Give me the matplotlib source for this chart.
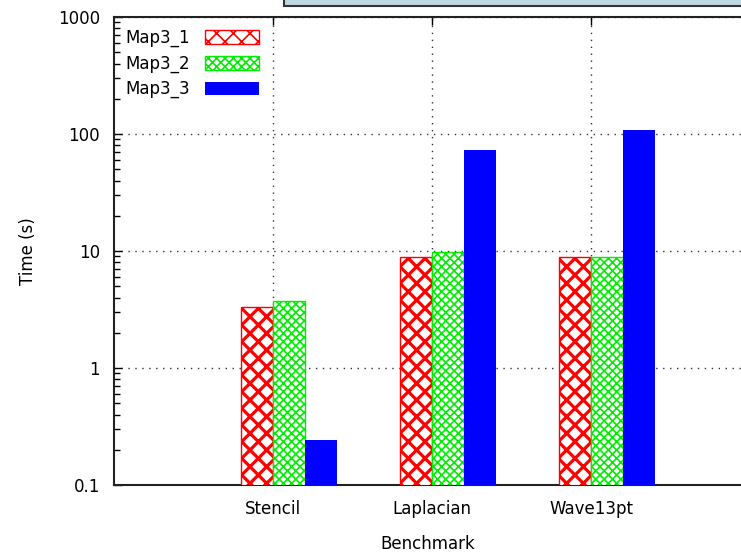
import numpy as np
import matplotlib.pyplot as plt
from matplotlib.patches import Rectangle

benchmarks = ['Stencil', 'Laplacian', 'Wave13pt']
map3_1 = [3.3, 8.9, 8.9]
map3_2 = [3.75, 9.8, 8.8]
map3_3 = [0.243, 73, 108]

plt.rcParams['font.family'] = 'DejaVu Sans'
plt.rcParams['font.size'] = 12

fig = plt.figure(figsize=(7.41, 5.56), dpi=100)
ax = fig.add_axes([114/741, 71/556, 627/741, 468/556])

x = np.arange(1, len(benchmarks) + 1)
w = 0.2

def set_hlw(bars, lw):
    for b in bars:
        if hasattr(b, 'set_hatch_linewidth'):
            b.set_hatch_linewidth(lw)

plt.rcParams['hatch.linewidth'] = 2.3
b1 = ax.bar(x - w/2, map3_1, w, bottom=1e-3, color='white', edgecolor='red',
            hatch='xx', linewidth=1.0, label='Map3_1', zorder=3)
set_hlw(b1, 2.3)
plt.rcParams['hatch.linewidth'] = 1.2
b2 = ax.bar(x + w/2, map3_2, w, bottom=1e-3, color='white', edgecolor='#00ee00',
            hatch='xxxx', linewidth=1.0, label='Map3_2', zorder=3)
set_hlw(b2, 1.2)
b3 = ax.bar(x + 3*w/2, map3_3, w, bottom=1e-3, color='blue', edgecolor='blue',
            linewidth=0, label='Map3_3', zorder=3)

ax.set_yscale('log')
ax.set_ylim(0.1, 1000)
ax.set_xlim(0, 627/159)
ax.set_xticks(x)
ax.set_xticklabels(benchmarks)
ax.set_yticks([0.1, 1, 10, 100, 1000])
ax.set_yticklabels(['0.1', '1', '10', '100', '1000'])

ax.grid(True, which='major', linestyle=(0, (1, 4)), color='#333333', linewidth=1.0, zorder=1)
ax.tick_params(axis='x', which='major', direction='in', length=6, width=1,
               top=True, pad=11)
ax.tick_params(axis='y', which='major', direction='in', length=6, width=1,
               right=False, pad=10)
ax.tick_params(axis='y', which='minor', direction='in', length=4, width=1, right=False)
ax.tick_params(axis='x', which='minor', bottom=False, top=False)
ax.spines['right'].set_visible(False)
for s in ['left', 'top', 'bottom']:
    ax.spines[s].set_linewidth(1.5)
    ax.spines[s].set_color('#222222')

ax.set_xlabel('Benchmark', labelpad=12)
ax.set_ylabel('Time (s)', labelpad=15)

leg = ax.legend(loc='upper left', frameon=False, markerfirst=False,
                handlelength=3.2, handleheight=0.9, labelspacing=0.45,
                handletextpad=0.9, borderaxespad=0.3, fontsize=12)

# partial label box at the top edge
fig.patches.append(Rectangle((284/741, 550/556), 470/741, 10/556, transform=fig.transFigure,
                             facecolor='#c0d8e4', edgecolor='#333333', linewidth=1.5))

fig.savefig('out.png', dpi=100)
